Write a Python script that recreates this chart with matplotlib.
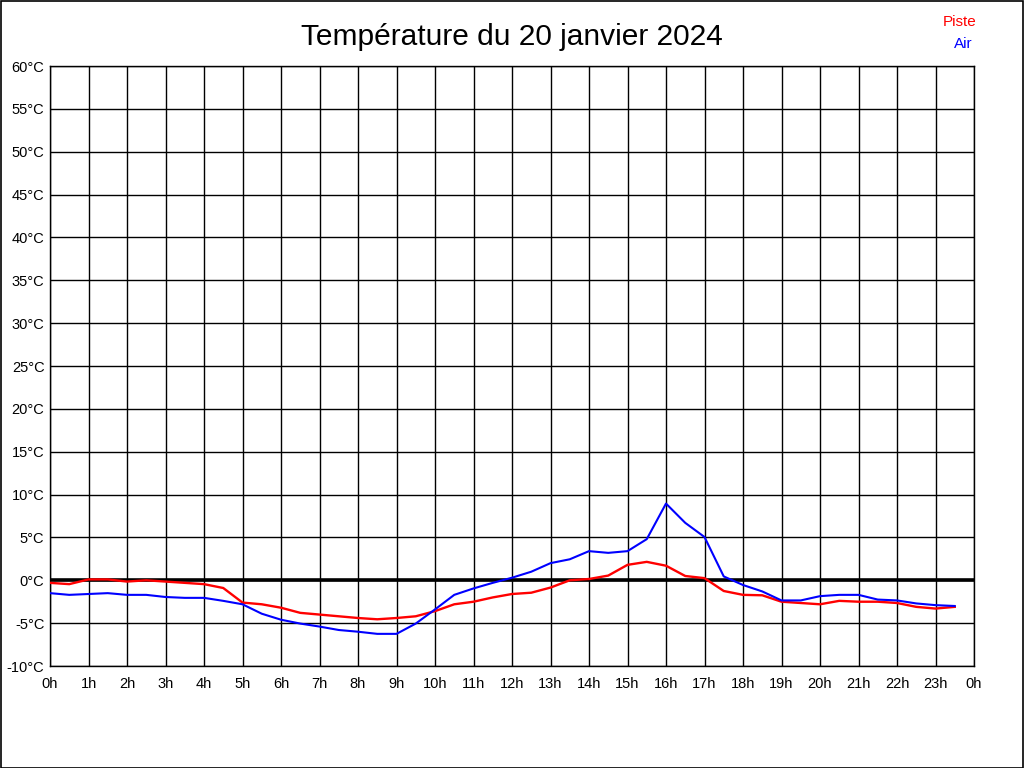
import matplotlib
matplotlib.use("Agg")
import matplotlib.pyplot as plt
from matplotlib.patches import Rectangle

plt.rcParams['font.family'] = ['Liberation Sans', 'DejaVu Sans']

hours = [i * 0.5 for i in range(48)]
piste = [-0.3, -0.45, 0.1, 0.1, -0.15, 0.0, -0.15, -0.3, -0.45, -0.9,
         -2.6, -2.8, -3.2, -3.8, -4.0, -4.2, -4.4, -4.55, -4.4, -4.2,
         -3.6, -2.8, -2.5, -2.0, -1.6, -1.45, -0.85, 0.0, 0.15, 0.55,
         1.8, 2.15, 1.7, 0.5, 0.25, -1.25, -1.7, -1.75, -2.5, -2.65,
         -2.8, -2.4, -2.5, -2.5, -2.65, -3.1, -3.3, -3.1]
air = [-1.5, -1.7, -1.6, -1.5, -1.7, -1.7, -1.95, -2.05, -2.05, -2.4,
       -2.8, -3.9, -4.6, -5.05, -5.4, -5.8, -6.0, -6.25, -6.25, -5.05,
       -3.4, -1.7, -0.95, -0.3, 0.3, 1.0, 2.0, 2.45, 3.4, 3.2,
       3.4, 4.8, 8.95, 6.7, 5.05, 0.45, -0.55, -1.3, -2.35, -2.35,
       -1.85, -1.7, -1.7, -2.25, -2.35, -2.7, -2.9, -3.0]

x_ticks = list(range(25))
x_labels = [f"{h % 24}h" for h in x_ticks]
y_ticks = list(range(-10, 61, 5))
y_labels = [f"{v}°C" for v in y_ticks]

title = "Température du 20 janvier 2024"

fig = plt.figure(figsize=(10.24, 7.68), dpi=100)
ax = fig.add_axes([50/1024, 102/768, 924/1024, 600/768])

ax.set_xlim(0, 24)
ax.set_ylim(-10, 60)
ax.set_xticks(x_ticks)
ax.set_xticklabels(x_labels)
ax.set_yticks(y_ticks)
ax.set_yticklabels(y_labels)
ax.tick_params(length=0, labelsize=10.5, colors='black')
ax.tick_params(axis='x', pad=8)
ax.tick_params(axis='y', pad=4)
ax.grid(True, color='black', linewidth=1.0)
for s in ax.spines.values():
    s.set_linewidth(1.0)
    s.set_color('black')

ax.axhline(0, color='black', linewidth=2.6, zorder=3)
ax.plot(hours, piste, color='#ff0000', linewidth=1.7, zorder=4)
ax.plot(hours, air, color='#0000ff', linewidth=1.5, zorder=5)

fig.text(0.5, 1 - 37/768, title, ha='center', va='center', fontsize=21.5)
fig.text(976/1024, 1 - 22/768, "Piste", ha='right', va='center', color='#ff0000', fontsize=11)
fig.text(973/1024, 1 - 44/768, "Air", ha='right', va='center', color='#0000ff', fontsize=11)

fig.patches.append(Rectangle((0.5/1024, 0.5/768), 1 - 1.5/1024, 1 - 1.5/768,
                             transform=fig.transFigure, fill=False,
                             edgecolor='black', linewidth=1.2))

fig.savefig("out.png", dpi=100)
